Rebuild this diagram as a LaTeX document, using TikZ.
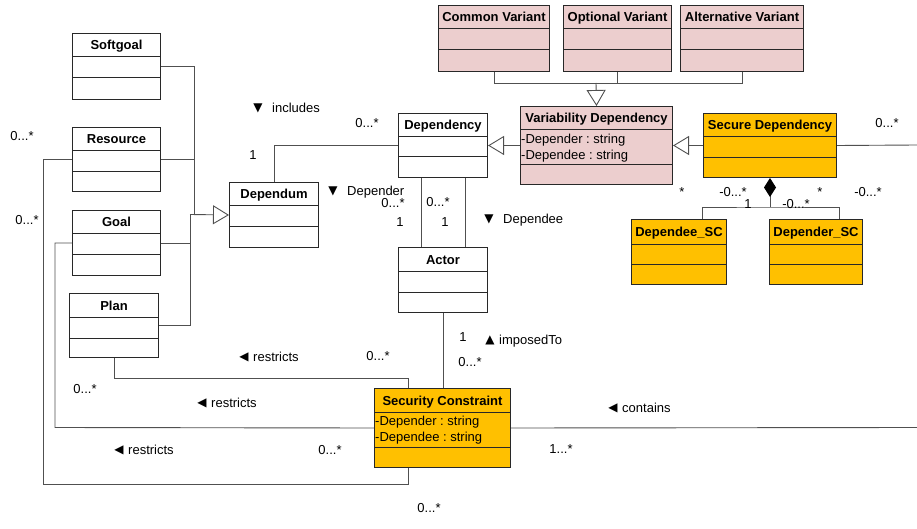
\documentclass[tikz,border=0pt]{standalone}
\usepackage{fontspec}
\setmainfont{Liberation Sans}
\newfontfamily\symfont{DejaVu Sans}
\usetikzlibrary{arrows.meta}

\definecolor{varpink}{RGB}{236,206,206}
\definecolor{secgold}{RGB}{255,192,0}
\definecolor{boxline}{RGB}{40,40,40}
\definecolor{wireline}{RGB}{80,80,80}

\tikzset{
  clsbox/.style={draw=boxline, line width=1pt, rectangle, inner sep=0pt, anchor=north west},
  clsdiv/.style={draw=boxline, line width=1pt},
  clstitle/.style={font=\frenchspacing\bfseries\fontsize{13}{15}\selectfont, inner sep=0pt, text height=9.5pt, text depth=2.5pt},
  attr/.style={font=\frenchspacing\fontsize{13}{15}\selectfont, inner sep=0pt, anchor=west, text height=9.5pt, text depth=2.5pt},
  lbl/.style={font=\frenchspacing\fontsize{13}{15}\selectfont, inner sep=0pt, text height=9.5pt, text depth=2.5pt},
  lblw/.style={lbl, anchor=west},
  sym/.style={font=\symfont\fontsize{12}{14}\selectfont, inner sep=0pt},
  wire/.style={draw=wireline, line width=0.9pt},
  gen/.style={wire, -{Triangle[length=16pt, width=19pt, fill=white]}},
  comp/.style={wire, -{Diamond[length=19pt, width=12pt, color=black]}},
}

% #1 name, #2 x, #3 y, #4 width, #5 height, #6 fill,
% #7 first divider offset, #8 second divider offset, #9 title
\newcommand\classbox[9]{%
  \node[clsbox, fill=#6, minimum width=#4pt, minimum height=#5pt] (#1) at (#2,#3) {};
  \node[clstitle] (#1-title) at ([yshift={-(#7)*0.5pt-1.5pt}]#1.north) {#9};
  \draw[clsdiv] ([yshift=-#7pt]#1.north west) -- ([yshift=-#7pt]#1.north east);
  \draw[clsdiv] ([yshift=-#8pt]#1.north west) -- ([yshift=-#8pt]#1.north east);
}

\begin{document}
\begin{tikzpicture}[x=1pt, y=-1pt]
\useasboundingbox (0,0) rectangle (917,529);

% ---- variability part ----
\classbox{common}{438}{5}{111}{66}{varpink}{24}{45}{Common Variant}
\classbox{optional}{563}{5}{108}{66}{varpink}{24}{45}{Optional Variant}
\classbox{alternative}{680}{5}{123}{66}{varpink}{24}{45}{Alternative Variant}
\classbox{variability}{520}{106}{152}{78}{varpink}{24}{59}{Variability Dependency}
\node[attr] (variability-a1) at (521,140) {-Depender : string};
\node[attr] (variability-a2) at (521,156) {-Dependee : string};

% ---- security part ----
\classbox{secure}{703}{113}{133}{64}{secgold}{24}{45}{Secure Dependency}
\classbox{dependeeSC}{631}{219}{95}{65}{secgold}{25}{45}{Dependee\_SC}
\classbox{dependerSC}{769}{219}{93}{65}{secgold}{25}{45}{Depender\_SC}
\classbox{secconst}{374}{388}{136}{79}{secgold}{24}{59}{Security Constraint}
\node[attr] (secconst-a1) at (375,422) {-Depender : string};
\node[attr] (secconst-a2) at (375,438) {-Dependee : string};

% ---- core part ----
\classbox{dependency}{398}{113}{89}{64}{white}{24}{44}{Dependency}
\classbox{actor}{398}{247}{89}{65}{white}{24}{45}{Actor}
\classbox{dependum}{229}{182}{89}{65}{white}{24}{45}{Dependum}
\classbox{softgoal}{72}{33}{88}{66}{white}{24}{45}{Softgoal}
\classbox{resource}{72}{127}{88}{64}{white}{24}{45}{Resource}
\classbox{goal}{72}{210}{88}{65}{white}{23}{44}{Goal}
\classbox{plan}{69}{293}{89}{64}{white}{24}{45}{Plan}

% ---- junction points ----
\coordinate (vj) at (596,83);
\coordinate (cj) at (770,207);
\coordinate (sgj) at (194,214.5);
\coordinate (gj) at (190,214.5);
\coordinate (secright) at (917,145);
\coordinate (conright) at (917,427.5);

% ---- generalizations ----
\draw[wire] (common.south) |- (vj);
\draw[wire] (optional.south) |- (vj);
\draw[wire] (alternative.south) |- (vj);
\draw[gen] (vj) -- (variability.north);
\draw[gen] (variability.west) -- (dependency.east);
\draw[gen] (secure.west) -- (variability.east);

\draw[wire] (softgoal.east) -| (sgj);
\draw[wire] (resource.east) -- (resource.east -| sgj);
\draw[wire] (plan.east) -| (gj);
\draw[wire] (goal.east) -- (goal.east -| gj);
\draw[gen] (gj) -- (dependum.west);

% ---- composition ----
\draw[comp] (cj) -- (secure.south);
\draw[wire] ([xshift=71pt]dependeeSC.north west) |- (cj) -| ([xshift=70pt]dependerSC.north west);
\draw[wire] (secure.east) -- (secright);

% ---- associations ----
\draw[wire] (dependum.north) |- (dependency.west);
\draw[wire] ([xshift=23pt]dependency.south west) -- ([xshift=23pt]actor.north west);
\draw[wire] ([xshift=67pt]dependency.south west) -- ([xshift=67pt]actor.north west);
\draw[wire] (actor.south) -- (actor.south |- secconst.north);
\draw[wire] (plan.south) |- (408,378) -- ([xshift=34pt]secconst.north west);
\draw[wire] (goal.west) -| (55,427.5) -- (secconst.west);
\draw[wire] (resource.west) -| (43,484) -| ([xshift=34pt]secconst.south west);
\draw[wire] (secconst.east) -- (conright);

% ---- labels ----
\node[sym] (t-incl) at (258,108) {▼};
\node[lblw] (l-incl) at (272,109) {includes};
\node[lbl] (m-incl1) at (253,156) {1};
\node[lbl] (m-incl2) at (367,124) {0...*};

\node[sym] (t-der) at (333,191) {▼};
\node[lblw] (l-der) at (347,192) {Depender};
\node[lbl] (m-der1) at (393,204) {0...*};
\node[lbl] (m-der2) at (400,223) {1};
\node[lbl] (m-dee1) at (438,203) {0...*};
\node[lbl] (m-dee2) at (445,223) {1};
\node[sym] (t-dee) at (489,219) {▼};
\node[lblw] (l-dee) at (503,220) {Dependee};

\node[lbl] (m-s1) at (682,193) {*};
\node[lbl] (m-s2) at (733,193) {-0...*};
\node[lbl] (m-s3) at (748,205) {1};
\node[lbl] (m-s4) at (796,205) {-0...*};
\node[lbl] (m-s5) at (820,193) {*};
\node[lbl] (m-s6) at (868,193) {-0...*};
\node[lbl] (m-s7) at (887,124) {0...*};

\node[lbl] (m-imp1) at (463,338) {1};
\node[sym] (t-imp) at (490,340) {▲};
\node[lblw] (l-imp) at (499,341) {imposedTo};
\node[lbl] (m-imp2) at (470,363) {0...*};

\node[sym] (t-r1) at (244,357) {◀};
\node[lblw] (l-r1) at (253,358) {restricts};
\node[lbl] (m-r1) at (378,357) {0...*};
\node[lbl] (m-r2) at (85,390) {0...*};
\node[sym] (t-r2) at (202,403) {◀};
\node[lblw] (l-r2) at (211,404) {restricts};
\node[sym] (t-r3) at (119,450) {◀};
\node[lblw] (l-r3) at (128,451) {restricts};
\node[lbl] (m-r3) at (330,451) {0...*};

\node[sym] (t-con) at (613,408) {◀};
\node[lblw] (l-con) at (622,409) {contains};
\node[lbl] (m-con) at (561,450) {1...*};
\node[lbl] (m-bot) at (429,509) {0...*};

\node[lbl] (m-left1) at (22,137) {0...*};
\node[lbl] (m-left2) at (27,221) {0...*};
\end{tikzpicture}
\end{document}
